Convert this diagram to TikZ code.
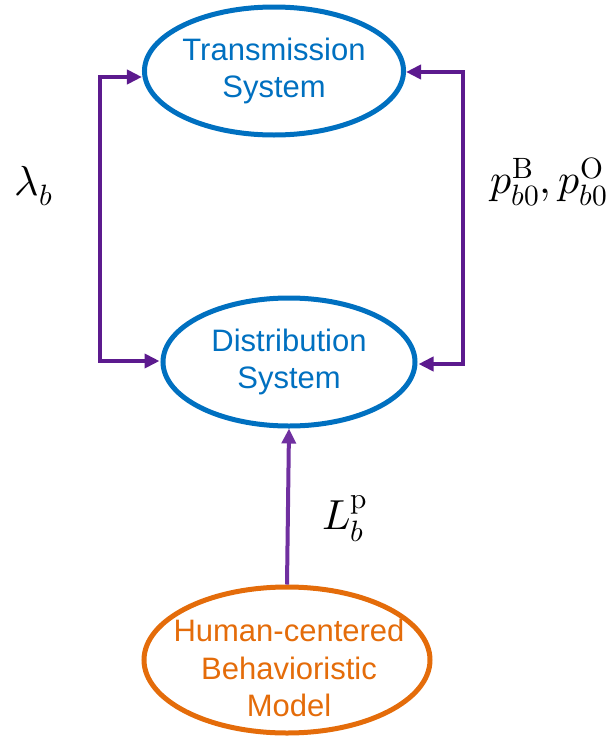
\documentclass[tikz,border=0pt]{standalone}
\usepackage{fontspec}
\setmainfont{Liberation Sans}
\usepackage{unicode-math}
\setmathfont{Latin Modern Math}
\usetikzlibrary{shapes.geometric,arrows.meta}
\definecolor{sysblue}{HTML}{0070C0}
\definecolor{humorange}{HTML}{E46C0A}
\definecolor{arrpurple}{HTML}{5C1A8E}
\definecolor{arrpurple2}{HTML}{7030A0}
\begin{document}
\begin{tikzpicture}[x=1pt,y=-1pt,
  sysnode/.style={draw=sysblue,line width=5pt,ellipse,minimum width=252pt,minimum height=128pt,text=sysblue,font=\fontsize{31}{37}\selectfont,align=center,inner sep=0pt},
  humnode/.style={draw=humorange,line width=5pt,ellipse,minimum width=286pt,minimum height=146pt,inner sep=0pt},
  humtext/.style={text=humorange,font=\fontsize{31}{37.5}\selectfont,align=center,inner sep=0pt},
  flow/.style={draw=arrpurple,line width=4pt,-{Triangle[length=15pt,width=14pt]}},
  mlabel/.style={font=\fontsize{42}{48}\selectfont}]
\useasboundingbox (0,0) rectangle (612,739);
\node[sysnode] (ts) at (274,71) {Transmission\\System};
\node[sysnode] (ds) at (289,362) {Distribution\\System};
\node[humnode] (hm) at (287,660) {};
\node[humtext] (hmt) at (289,668) {Human-centered\\Behavioristic\\Model};
\coordinate (l1) at (100,361);
\coordinate (l2) at (100,77);
\coordinate (r1) at (463,72);
\coordinate (r2) at (463,364);
\draw[flow] (l1) -- (l2) -- (ts.west |- l2);
\draw[flow] (l2) -- (l1) -- ([xshift=-1pt]ds.west |- l1);
\draw[flow] (r2) -- (r1) -- (ts.east |- r1);
\draw[flow] (r1) -- (r2) -- ([xshift=1pt]ds.east |- r2);
\draw[flow,draw=arrpurple2] (hm.north) -- (ds.south);
\node[mlabel] (lam) at (34,186) {$\lambda_b$};
\node[mlabel] (pbo) at (549,182) {$p_{b0}^{\symup{B}},p_{b0}^{\symup{O}}$};
\node[mlabel] (lbp) at (345,519) {$L_b^{\symup{p}}$};
\end{tikzpicture}
\end{document}
